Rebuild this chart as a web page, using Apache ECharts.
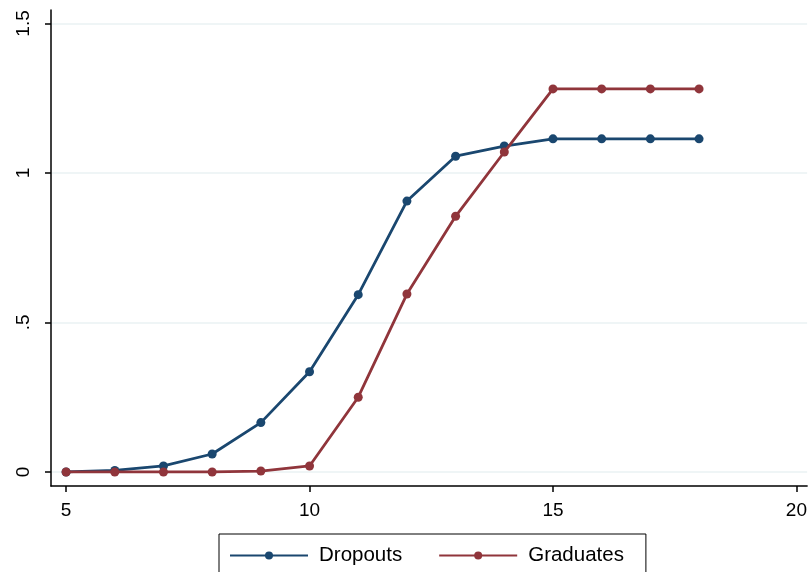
<!DOCTYPE html>
<html>
<head>
<meta charset="utf-8">
<script src="https://cdn.jsdelivr.net/npm/echarts@6/dist/echarts.min.js"></script>
<style>
  html, body { margin: 0; padding: 0; background: #fff; }
  #chart { width: 810px; height: 572px; }
</style>
</head>
<body>
<div id="chart"></div>
<script>
// data
const ages = [5, 6, 7, 8, 9, 10, 11, 12, 13, 14, 15, 16, 17, 18];
const dropouts = [0, 0.005, 0.02, 0.06, 0.165, 0.335, 0.593, 0.906, 1.056, 1.09, 1.114, 1.114, 1.114, 1.114];
const graduates = [0, 0, 0, 0, 0.003, 0.02, 0.25, 0.595, 0.855, 1.07, 1.281, 1.281, 1.281, 1.281];
const xTicks = [5, 10, 15, 20];
const yTicks = [0, 0.5, 1, 1.5];
const yTickLabels = ['0', '.5', '1', '1.5'];

const blue = '#1a476f';
const red = '#90353b';

const chart = echarts.init(document.getElementById('chart'));

function pairs(vals) {
  return ages.map((a, i) => [a, vals[i]]);
}

const option = {
  backgroundColor: '#fff',
  animation: false,
  textStyle: { fontFamily: 'Liberation Sans, Arial, sans-serif' },
  grid: { left: 51, right: 0, top: 10, bottom: 86 },
  xAxis: {
    type: 'value',
    min: 4.69,
    max: 20.22,
    axisLine: { show: true, onZero: false, lineStyle: { color: '#000', width: 1.5 } },
    axisTick: { show: true, length: 6, customValues: xTicks, lineStyle: { color: '#000', width: 1.5 } },
    axisLabel: { customValues: xTicks, fontSize: 19, color: '#000', margin: 15 },
    splitLine: { show: false }
  },
  yAxis: {
    type: 'value',
    min: -0.047,
    max: 1.545,
    axisLine: { show: true, onZero: false, lineStyle: { color: '#000', width: 1.5 } },
    axisTick: { show: true, length: 6, customValues: yTicks, lineStyle: { color: '#000', width: 1.5 } },
    axisLabel: {
      customValues: yTicks,
      rotate: 90,
      fontSize: 19,
      color: '#000',
      margin: 18,
      formatter: v => yTickLabels[yTicks.indexOf(v)] ?? ''
    },
    splitLine: { show: true, customValues: yTicks, lineStyle: { color: '#eaf2f3', width: 1.5 } }
  },
  legend: {
    left: 219,
    top: 534,
    padding: [11, 22, 30, 10],
    borderColor: '#000',
    borderWidth: 1,
    itemWidth: 78,
    itemHeight: 10,
    itemGap: 36,
    textStyle: { fontSize: 20.5, color: '#000', padding: [0, 0, 0, 6] },
    data: ['Dropouts', 'Graduates']
  },
  series: [
    {
      name: 'Dropouts',
      type: 'line',
      data: pairs(dropouts),
      symbol: 'circle',
      symbolSize: 9,
      itemStyle: { color: blue },
      lineStyle: { color: blue, width: 2.8 },
      z: 2
    },
    {
      name: 'Graduates',
      type: 'line',
      data: pairs(graduates),
      symbol: 'circle',
      symbolSize: 9,
      itemStyle: { color: red },
      lineStyle: { color: red, width: 2.8 },
      z: 3
    }
  ]
};

chart.setOption(option);
</script>
</body>
</html>
